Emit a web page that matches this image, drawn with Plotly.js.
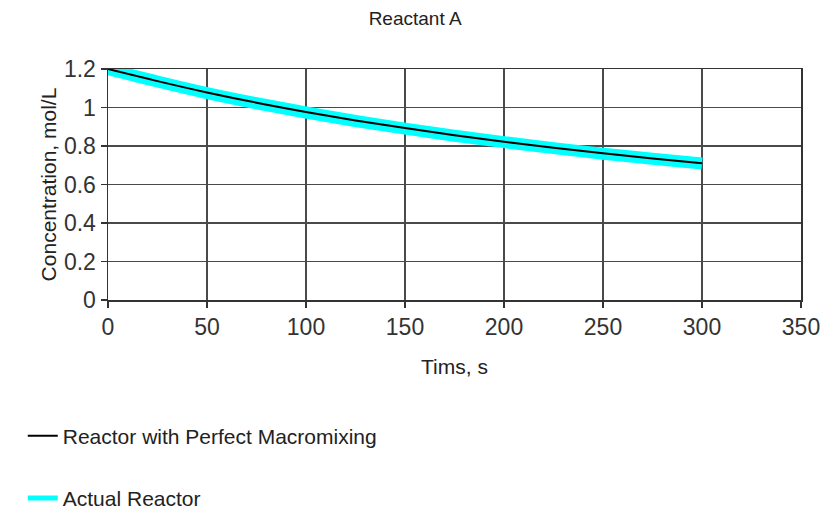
<!DOCTYPE html>
<html><head><meta charset="utf-8">
<script src="https://cdn.plot.ly/plotly-3.0.1.min.js"></script>
<style>html,body{margin:0;padding:0;background:#fff}</style>
</head><body>
<div id="chart" style="width:822px;height:514px"></div>
<script>
const timeS = [0, 25, 50, 75, 100, 125, 150, 175, 200, 225, 250, 275, 300];
const perfectMacromixing = [1.2, 1.137, 1.078, 1.025, 0.977, 0.933, 0.893, 0.856, 0.822, 0.791, 0.762, 0.735, 0.71];
const actualReactor = [1.2, 1.135, 1.075, 1.022, 0.974, 0.93, 0.89, 0.853, 0.82, 0.789, 0.76, 0.734, 0.709];
const seriesNames = ['Reactor with Perfect Macromixing', 'Actual Reactor'];
const xTicks = [0, 50, 100, 150, 200, 250, 300, 350];
const yTicks = [0, 0.2, 0.4, 0.6, 0.8, 1, 1.2];

const fontFam = '"Liberation Sans Narrow", "Arial Narrow", "Liberation Sans", Arial, sans-serif';
const traces = [
  {x: timeS, y: actualReactor, name: seriesNames[1], mode: 'lines', line: {color: '#00ffff', width: 12, shape: 'spline'}, legendgroup: 'b', legendrank: 2, cliponaxis: false, showlegend: false},
  {x: timeS, y: perfectMacromixing, name: seriesNames[0], mode: 'lines', line: {color: '#000000', width: 2, shape: 'spline'}, legendgroup: 'a', legendrank: 1, cliponaxis: false},
  {x: [null], y: [null], name: seriesNames[1], mode: 'lines', line: {color: '#00ffff', width: 5}, legendgroup: 'b', legendrank: 2}
];
const layout = {
  width: 822, height: 514,
  margin: {l: 108, r: 21, t: 69, b: 213.5, autoexpand: false},
  paper_bgcolor: '#fff', plot_bgcolor: '#fff',
  title: {text: 'Reactant A', x: 0.505, xanchor: 'center', y: 0.965, yanchor: 'middle', font: {family: fontFam, size: 19, color: '#222'}},
  xaxis: {range: [0, 350], tickvals: xTicks, ticktext: xTicks.map(String), showgrid: true, gridcolor: '#4a4a4a', gridwidth: 1.5,
    showline: true, linecolor: '#333', linewidth: 1.5, mirror: true, ticks: 'outside', ticklen: 6, tickcolor: '#333', tickwidth: 1.5,
    zeroline: false, automargin: false, tickfont: {family: fontFam, size: 23, color: '#333'},
    title: {text: 'Tims, s', font: {family: fontFam, size: 21, color: '#222'}}},
  yaxis: {range: [0, 1.2], tickvals: yTicks, ticktext: ['0', '0.2', '0.4', '0.6', '0.8', '1', '1.2'], showgrid: true, gridcolor: '#4a4a4a', gridwidth: 1.5,
    showline: true, linecolor: '#333', linewidth: 1.5, mirror: true, ticks: 'outside', ticklen: 6, tickcolor: '#333', tickwidth: 1.5,
    zeroline: false, automargin: false, tickfont: {family: fontFam, size: 23, color: '#333'},
    title: {text: 'Concentration, mol/L', font: {family: fontFam, size: 21, color: '#222'}}},
  showlegend: true,
  legend: {x: -0.123, xanchor: 'left', y: -0.5, yanchor: 'top', orientation: 'v', tracegroupgap: 32,
    font: {family: fontFam, size: 21, color: '#222'}, bgcolor: 'rgba(0,0,0,0)', traceorder: 'grouped'}
};
Plotly.newPlot('chart', traces, layout, {displayModeBar: false, staticPlot: true});
</script>
</body></html>
